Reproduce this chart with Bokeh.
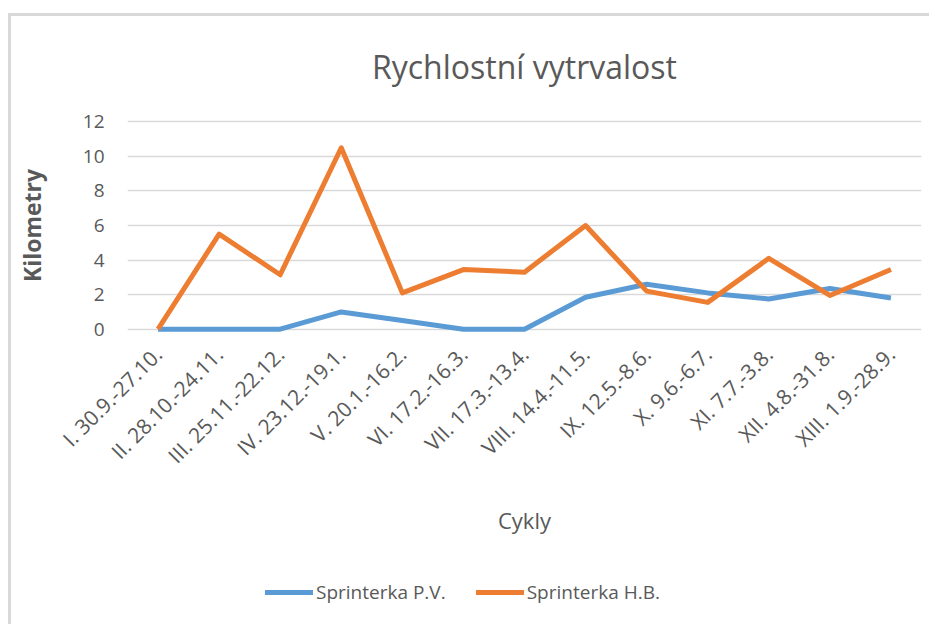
from bokeh.plotting import figure
from bokeh.models import Legend, LegendItem, ColumnDataSource, Range1d, FactorRange
from bokeh.layouts import column
from bokeh.embed import file_html
from bokeh.resources import INLINE
import math

categories = ["I. 30.9.-27.10.", "II. 28.10.-24.11.", "III. 25.11.-22.12.", "IV. 23.12.-19.1.",
              "V. 20.1.-16.2.", "VI. 17.2.-16.3.", "VII. 17.3.-13.4.", "VIII. 14.4.-11.5.",
              "IX. 12.5.-8.6.", "X. 9.6.-6.7.", "XI. 7.7.-3.8.", "XII. 4.8.-31.8.", "XIII. 1.9.-28.9."]
sprinterka_pv = [0, 0, 0, 1.0, 0.5, 0, 0, 1.85, 2.6, 2.1, 1.75, 2.35, 1.8]
sprinterka_hb = [0, 5.5, 3.15, 10.5, 2.1, 3.45, 3.3, 6.0, 2.2, 1.55, 4.1, 1.95, 3.45]
series_names = ["Sprinterka P.V.", "Sprinterka H.B."]
y_ticks = [0, 2, 4, 6, 8, 10, 12]

BLUE = "#5B9BD5"
ORANGE = "#ED7D31"
TXT = "#595959"
GRID = "#d9d9d9"
FONT = "Open Sans"

p = figure(width=918, height=540, x_range=FactorRange(*categories), y_range=Range1d(-0.25, 12.25),
           output_backend="svg", toolbar_location=None,
           title="Rychlostní vytrvalost",
           min_border_left=116, min_border_right=8, min_border_top=101, min_border_bottom=223)

p.title.align = "center"
p.title.vertical_align = "top"
p.title.text_font = FONT
p.title.text_font_size = "32px"
p.title.text_font_style = "normal"
p.title.text_color = TXT
p.title.standoff = 55

p.outline_line_color = None
p.xgrid.grid_line_color = None
p.ygrid.grid_line_color = GRID
p.ygrid.grid_line_width = 1.5
p.yaxis.ticker = y_ticks

for ax in (p.xaxis, p.yaxis):
    ax.axis_line_color = None
    ax.major_tick_line_color = None
    ax.minor_tick_line_color = None
    ax.major_label_text_color = TXT
    ax.major_label_text_font = FONT
    ax.axis_label_text_color = TXT
    ax.axis_label_text_font = FONT

p.xaxis.major_label_text_font_size = "21px"
p.yaxis.major_label_text_font_size = "19px"
p.xaxis.major_label_orientation = math.pi / 4
p.xaxis.major_label_standoff = 11
p.xaxis.axis_label = "Cykly"
p.xaxis.axis_label_text_font_size = "22px"
p.xaxis.axis_label_text_font_style = "normal"
p.xaxis.axis_label_standoff = 23

p.yaxis.axis_label = "Kilometry"
p.yaxis.axis_label_text_font_size = "23px"
p.yaxis.axis_label_text_font_style = "bold"
p.yaxis.major_label_standoff = 17
p.yaxis.axis_label_standoff = 32

src = ColumnDataSource(dict(x=categories, pv=sprinterka_pv, hb=sprinterka_hb))
p.line("x", "pv", source=src, line_color=BLUE, line_width=5, line_join="round")
p.line("x", "hb", source=src, line_color=ORANGE, line_width=5, line_join="round")

# legend strip below the chart (its line renderers are hidden; only their legend glyphs show)
pl = figure(width=918, height=68, x_axis_type=None, y_axis_type=None,
            x_range=FactorRange(*categories), y_range=Range1d(-0.25, 12.25),
            output_backend="svg", toolbar_location=None, min_border=0)
pl.outline_line_color = None
pl.grid.visible = False
lsrc = ColumnDataSource(dict(x=categories, pv=sprinterka_pv, hb=sprinterka_hb))
l1 = pl.line("x", "pv", source=lsrc, line_color=BLUE, line_width=5, line_cap="round", visible=False)
l2 = pl.line("x", "hb", source=lsrc, line_color=ORANGE, line_width=5, line_cap="round", visible=False)
legend = Legend(items=[LegendItem(label=series_names[0], renderers=[l1]),
                       LegendItem(label=series_names[1], renderers=[l2])],
                orientation="horizontal", location=(138, 19),
                label_text_font=FONT, label_text_font_size="19px", label_text_color=TXT,
                glyph_width=48, glyph_height=20, spacing=30, label_standoff=3,
                inactive_fill_alpha=0,
                border_line_color=None, background_fill_alpha=0, padding=0, margin=0)
pl.add_layout(legend, "center")

layout = column(p, pl, spacing=0)
layout.styles = {"margin-top": "13px", "margin-left": "8px",
                 "border-top": "3px solid #d9d9d9", "border-left": "3px solid #d9d9d9"}

open("out.html", "w").write(file_html(layout, INLINE))
